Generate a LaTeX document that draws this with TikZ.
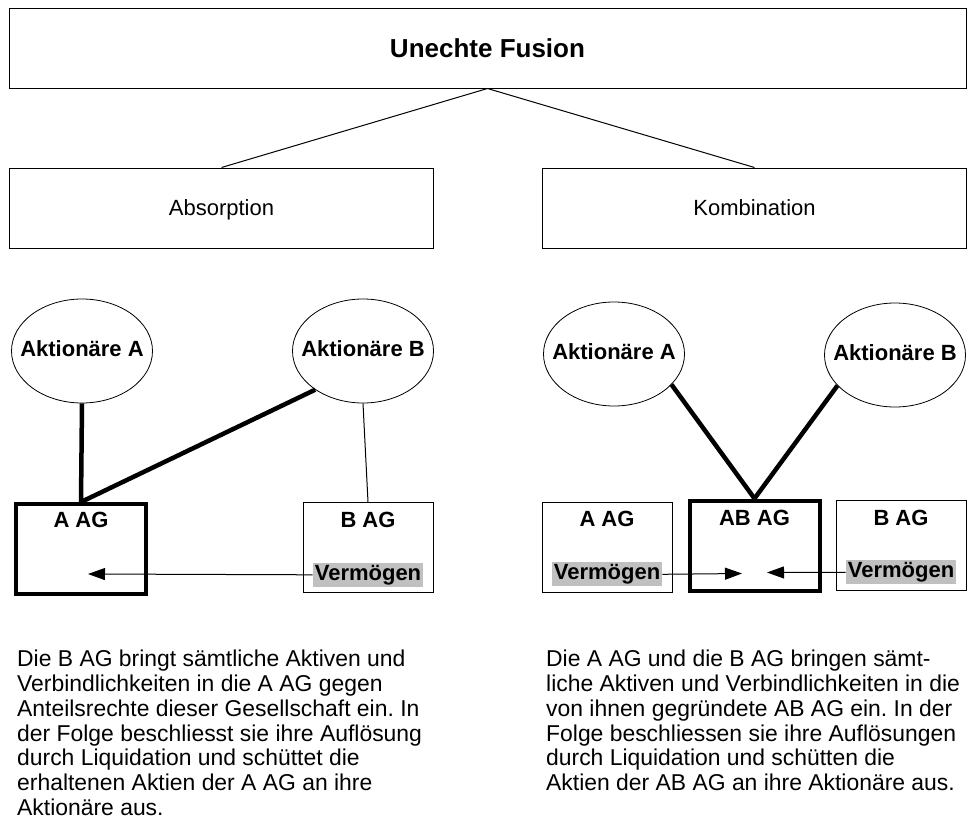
\documentclass[tikz,border=0pt]{standalone}
\usepackage{fontspec}
\setmainfont{Liberation Sans}
\frenchspacing
\usetikzlibrary{positioning,shapes.geometric,arrows.meta}
\definecolor{assetgray}{RGB}{192,192,192}
\tikzset{
        big/.style={font=\fontsize{22}{26}\selectfont, text height=15.8, text depth=0},
        bigbold/.style={font=\fontsize{22}{26}\selectfont\bfseries, text height=16, text depth=5},
        head/.style={font=\fontsize{26}{30}\selectfont\bfseries, text height=18.6, text depth=0, draw=black, line width=1pt, minimum width=957, minimum height=80},
        kind/.style={big, draw=black, line width=1pt, minimum width=424, minimum height=80},
        holder/.style={ellipse, draw=black, line width=0.8pt, inner sep=0pt, minimum width=141, minimum height=104},
        holdername/.style={bigbold, inner sep=0pt},
        firm/.style={draw=black, line width=1pt, minimum width=130, minimum height=90},
        newfirm/.style={firm, line width=4pt},
        firmname/.style={font=\fontsize{22}{26}\selectfont\bfseries, inner sep=0pt},
        assets/.style={bigbold, fill=assetgray, inner xsep=2pt, inner ysep=0pt, minimum height=24},
        link/.style={line width=1pt},
        share/.style={line width=4.5pt},
        transfer/.style={line width=1pt, -{Triangle[length=17pt,width=12pt]}},
        story/.style={font=\fontsize{22.9}{24.75}\selectfont, align=left, anchor=north west, inner sep=0pt}
          }

\begin{document}
\begin{tikzpicture}[x=1pt, y=1pt]
            \useasboundingbox (0,0) rectangle (969,-830);
            \node[head] (fusion) at (487.5,-48) {Unechte Fusion};
            \node[kind] (absorp) at (221.5,-208) {Absorption};
            \node[kind] (kombi) at (754.5,-208) {Kombination};
            \draw[link] (fusion.south) -- (absorp.north);
            \draw[link] (fusion.south) -- (kombi.north);

            \node[holder] (aktA1) at (82,-351) {};
            \node[holder] (aktB1) at (363,-351) {};
            \node[holdername] (nameA1) at (aktA1) {Aktionäre A};
            \node[holdername] (nameB1) at (aktB1) {Aktionäre B};
            \node[newfirm] (aag1) at (81,-549) {};
            \node[firm] (bag1) at (368,-547.5) {};
            \node[firmname, below=10pt of aag1.north] (aname1) {A AG};
            \node[firmname, below=10pt of bag1.north] (bname1) {B AG};
            \node[assets, above=6pt of bag1.south] (verm1) {Vermögen};
            \coordinate (tip1) at (88,-574);
            \draw[share] (aktA1.south) -- (aag1.north);
            \draw[share] (aktB1.-141) -- (aag1.north);
            \draw[link] (aktB1.south) -- (bag1.north);
            \draw[transfer] (verm1.west) -- (tip1);

            \node[holder] (aktA2) at (614,-354) {};
            \node[holder] (aktB2) at (895,-355) {};
            \node[holdername] (nameA2) at (aktA2) {Aktionäre A};
            \node[holdername] (nameB2) at (aktB2) {Aktionäre B};
            \node[firm] (aag2) at (607,-547) {};
            \node[newfirm] (abag) at (754.5,-545.5) {};
            \node[firm] (bag2) at (901,-545) {};
            \node[firmname, below=9pt of aag2.north] (aname2) {A AG};
            \node[firmname, below=11pt of abag.north] (abname) {AB AG};
            \node[firmname, below=10pt of bag2.north] (bname2) {B AG};
            \node[assets, above=6pt of aag2.south] (verm2) {Vermögen};
            \node[assets, above=6pt of bag2.south] (verm3) {Vermögen};
            \coordinate (tip2) at (742,-573.5);
            \coordinate (tip3) at (767,-572.5);
            \draw[share] (aktA2.-28) -- (abag.north);
            \draw[share] (aktB2.-152) -- (abag.north);
            \draw[transfer] (verm2.east) -- (tip2);
            \draw[transfer] (verm3.west) -- (tip3);

            \node[story] (textabs) at (17,-650) {Die B AG bringt sämtliche Aktiven und\\Verbindlichkeiten in die A AG gegen\\Anteilsrechte dieser Gesellschaft ein. In\\der Folge beschliesst sie ihre Auflösung\\durch Liquidation und schüttet die\\erhaltenen Aktien der A AG an ihre\\Aktionäre aus.};
            \node[story] (textkom) at (546,-650) {Die A AG und die B AG bringen sämt-\\liche Aktiven und Verbindlichkeiten in die\\von ihnen gegründete AB AG ein. In der\\Folge beschliessen sie ihre Auflösungen\\durch Liquidation und schütten die\\Aktien der AB AG an ihre Aktionäre aus.};
          \end{tikzpicture}
\end{document}
